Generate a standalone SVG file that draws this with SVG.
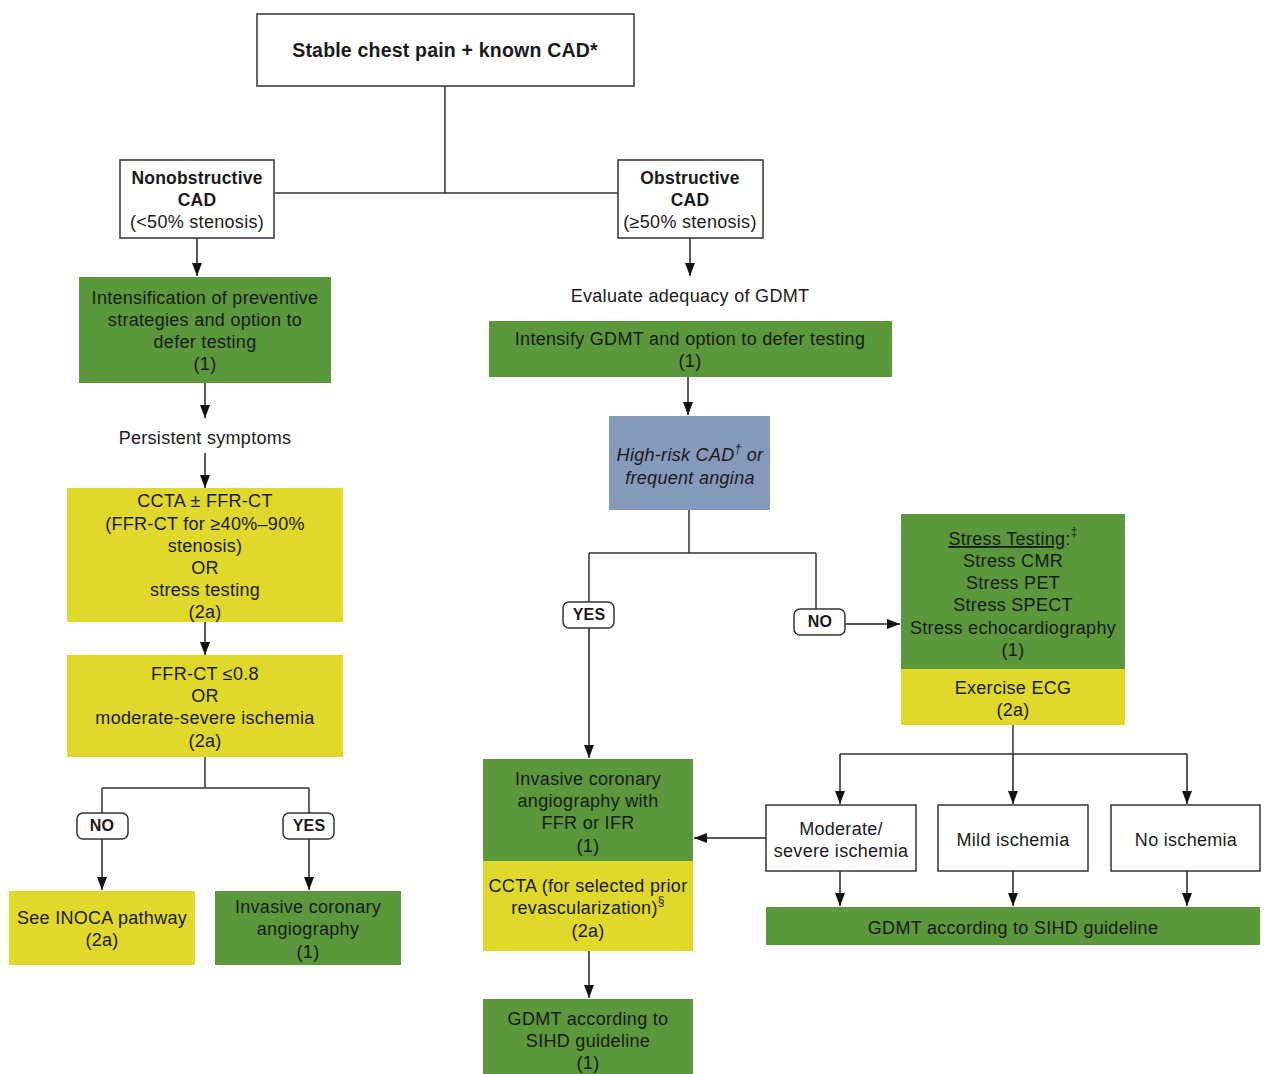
<svg xmlns="http://www.w3.org/2000/svg" width="1264" height="1074" viewBox="0 0 1264 1074">
<defs>
<marker id="ah" viewBox="0 0 13 10" refX="13" refY="5" markerWidth="13" markerHeight="10" markerUnits="userSpaceOnUse" orient="auto">
<path d="M0,0 L13,5 L0,10 z" fill="#111"/>
</marker>
<style>
text{font-family:"Liberation Sans",Arial,sans-serif;font-size:18px;letter-spacing:0.3px;fill:#1a1a1a;text-anchor:middle;dominant-baseline:middle}
.b{font-weight:bold;font-size:17.5px;letter-spacing:0.2px}
.t{font-size:19.5px}
.lb{font-size:16px}
.i{font-style:italic}
.wb{fill:#fff;stroke:#333;stroke-width:1.5}
.g{fill:#5b973b}
.y{fill:#e0d82a}
.bl{fill:#8599bb}
.lab{fill:#fff;stroke:#333;stroke-width:1.5}
.c{fill:none;stroke:#333;stroke-width:1.5}
.a{fill:none;stroke:#222;stroke-width:1.5;marker-end:url(#ah)}
.sup{font-size:12px}
</style>
</defs>
<rect width="1264" height="1074" fill="#fff"/>

<g id="connectors">
<path class="c" d="M445,86 V193 M275,193 H618"/>
<path class="a" d="M197,238 V276"/>
<path class="a" d="M205,383 V418"/>
<path class="a" d="M205,453 V488"/>
<path class="a" d="M205,622 V655"/>
<path class="c" d="M205,757 V788 M102,788 H309 M102,788 V813 M309,788 V813"/>
<path class="a" d="M102,839 V890"/>
<path class="a" d="M309,839 V890"/>
<path class="a" d="M690,238 V276"/>
<path class="a" d="M688,377 V415"/>
<path class="c" d="M689,510 V553 M589,553 H816 M589,553 V602 M816,553 V609"/>
<path class="a" d="M589,628 V758"/>
<path class="a" d="M845,624 H900"/>
<path class="c" d="M1013,725 V754 M840,754 H1187"/>
<path class="a" d="M840,754 V804"/>
<path class="a" d="M1013,754 V804"/>
<path class="a" d="M1187,754 V804"/>
<path class="a" d="M766,838 H694"/>
<path class="a" d="M840,871 V906"/>
<path class="a" d="M1013,871 V906"/>
<path class="a" d="M1187,871 V906"/>
<path class="a" d="M589,951 V998"/>
</g>

<g id="start">
<rect class="wb" x="257" y="14" width="377" height="72"/>
<text class="b t" x="445" y="52">Stable chest pain + known CAD*</text>
</g>

<g id="nonobstructive">
<rect class="wb" x="120" y="160" width="154" height="78"/>
<text class="b" x="197" y="179">Nonobstructive</text>
<text class="b" x="197" y="201">CAD</text>
<text x="197" y="223">(&lt;50% stenosis)</text>
</g>

<g id="obstructive">
<rect class="wb" x="618" y="160" width="145" height="78"/>
<text class="b" x="690" y="179">Obstructive</text>
<text class="b" x="690" y="201">CAD</text>
<text x="690" y="223">(≥50% stenosis)</text>
</g>

<g id="intensification">
<rect class="g" x="79" y="277" width="252" height="106"/>
<text x="205" y="299">Intensification of preventive</text>
<text x="205" y="321">strategies and option to</text>
<text x="205" y="343">defer testing</text>
<text x="205" y="365">(1)</text>
</g>

<g id="persistent">
<text x="205" y="439">Persistent symptoms</text>
</g>

<g id="ccta">
<rect class="y" x="67" y="488" width="276" height="134"/>
<text x="205" y="502">CCTA ± FFR-CT</text>
<text x="205" y="525">(FFR-CT for ≥40%–90%</text>
<text x="205" y="547">stenosis)</text>
<text x="205" y="569">OR</text>
<text x="205" y="591">stress testing</text>
<text x="205" y="613">(2a)</text>
</g>

<g id="ffrct">
<rect class="y" x="67" y="655" width="276" height="102"/>
<text x="205" y="675">FFR-CT ≤0.8</text>
<text x="205" y="697">OR</text>
<text x="205" y="719">moderate-severe ischemia</text>
<text x="205" y="742">(2a)</text>
</g>

<g id="no-left">
<rect class="lab" x="77" y="813" width="51" height="26" rx="6"/>
<text class="b lb" x="102" y="827">NO</text>
</g>

<g id="yes-left">
<rect class="lab" x="283" y="813" width="51" height="26" rx="6"/>
<text class="b lb" x="309" y="827">YES</text>
</g>

<g id="inoca">
<rect class="y" x="9" y="891" width="186" height="74"/>
<text x="102" y="919">See INOCA pathway</text>
<text x="102" y="941">(2a)</text>
</g>

<g id="ica-left">
<rect class="g" x="215" y="891" width="186" height="74"/>
<text x="308" y="908">Invasive coronary</text>
<text x="308" y="930">angiography</text>
<text x="308" y="953">(1)</text>
</g>

<g id="evaluate">
<text x="690" y="297">Evaluate adequacy of GDMT</text>
</g>

<g id="intensify-gdmt">
<rect class="g" x="489" y="321" width="403" height="56"/>
<text x="690" y="340">Intensify GDMT and option to defer testing</text>
<text x="690" y="362">(1)</text>
</g>

<g id="highrisk">
<rect class="bl" x="609" y="416" width="161" height="94"/>
<text class="i" x="690" y="456">High-risk CAD<tspan class="sup" dy="-6">†</tspan><tspan dy="6"> or</tspan></text>
<text class="i" x="690" y="479">frequent angina</text>
</g>

<g id="yes-mid">
<rect class="lab" x="563" y="602" width="51" height="26" rx="6"/>
<text class="b lb" x="589" y="616">YES</text>
</g>

<g id="no-mid">
<rect class="lab" x="794" y="609" width="51" height="26" rx="6"/>
<text class="b lb" x="820" y="623">NO</text>
</g>

<g id="stress">
<rect class="g" x="901" y="514" width="224" height="155"/>
<rect class="y" x="901" y="669" width="224" height="56"/>
<text x="1013" y="540"><tspan text-decoration="underline">Stress Testing</tspan>:<tspan class="sup" dy="-7">‡</tspan></text>
<text x="1013" y="562">Stress CMR</text>
<text x="1013" y="584">Stress PET</text>
<text x="1013" y="606">Stress SPECT</text>
<text x="1013" y="629">Stress echocardiography</text>
<text x="1013" y="651">(1)</text>
<text x="1013" y="689">Exercise ECG</text>
<text x="1013" y="711">(2a)</text>
</g>

<g id="moderate">
<rect class="wb" x="766" y="805" width="150" height="66"/>
<text x="841" y="830">Moderate/</text>
<text x="841" y="852">severe ischemia</text>
</g>

<g id="mild">
<rect class="wb" x="938" y="805" width="150" height="66"/>
<text x="1013" y="841">Mild ischemia</text>
</g>

<g id="noischemia">
<rect class="wb" x="1111" y="805" width="149" height="66"/>
<text x="1186" y="841">No ischemia</text>
</g>

<g id="gdmt-right">
<rect class="g" x="766" y="907" width="494" height="38"/>
<text x="1013" y="929">GDMT according to SIHD guideline</text>
</g>

<g id="ica-ffr">
<rect class="g" x="483" y="759" width="210" height="102"/>
<rect class="y" x="483" y="861" width="210" height="90"/>
<text x="588" y="780">Invasive coronary</text>
<text x="588" y="802">angiography with</text>
<text x="588" y="824">FFR or IFR</text>
<text x="588" y="847">(1)</text>
<text x="588" y="887">CCTA (for selected prior</text>
<text x="588" y="909">revascularization)<tspan class="sup" dy="-7">§</tspan></text>
<text x="588" y="932">(2a)</text>
</g>

<g id="gdmt-bottom">
<rect class="g" x="483" y="999" width="210" height="75"/>
<text x="588" y="1020">GDMT according to</text>
<text x="588" y="1042">SIHD guideline</text>
<text x="588" y="1064">(1)</text>
</g>
</svg>
